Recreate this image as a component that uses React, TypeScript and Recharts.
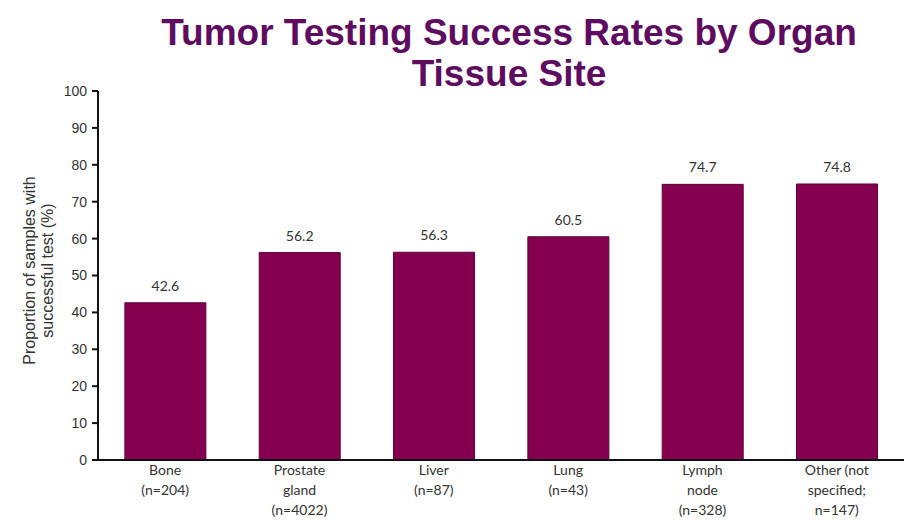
import { BarChart, Bar, XAxis, YAxis, LabelList } from 'recharts';

// Success rates per tissue site, with sample counts in the tick labels
const sites = [
  'Bone\n(n=204)',
  'Prostate\ngland\n(n=4022)',
  'Liver\n(n=87)',
  'Lung\n(n=43)',
  'Lymph\nnode\n(n=328)',
  'Other (not\nspecified;\nn=147)',
];
const successRates = [42.6, 56.2, 56.3, 60.5, 74.7, 74.8];
const yTicks = [0, 10, 20, 30, 40, 50, 60, 70, 80, 90, 100];

const data = sites.map((site, i) => ({ site, rate: successRates[i] }));

const BAR_COLOR = '#85004f';
const TEXT = '#333333';

// eslint-disable-next-line @typescript-eslint/no-explicit-any
function SiteTick(props: any) {
  const { x, y, payload } = props;
  const lines = String(payload.value).split('\n');
  return (
    <text x={x} y={y + 7} textAnchor="middle" fill={TEXT} fontSize={14} fontFamily="Lato, 'Open Sans', sans-serif">
      {lines.map((line, i) => (
        <tspan key={i} x={x} dy={i === 0 ? 0 : 20}>{line}</tspan>
      ))}
    </text>
  );
}

// eslint-disable-next-line @typescript-eslint/no-explicit-any
function YLabel(props: any) {
  const vb = props.viewBox || { x: 0, y: 0, height: 0 };
  const cy = vb.y + vb.height / 2 - 5;
  const cx = 40;
  return (
    <text
      transform={`translate(${cx}, ${cy}) rotate(-90)`}
      textAnchor="middle"
      fill={TEXT}
      fontSize={16}
      fontFamily="'Liberation Sans', Arial, sans-serif"
    >
      <tspan x={0} dy={-5}>Proportion of samples with</tspan>
      <tspan x={0} dy={18}>successful test (%)</tspan>
    </text>
  );
}

export default function App() {
  return (
    <div style={{ position: 'absolute', left: 0, top: 0, width: 924, height: 524, background: '#fff' }}>
      <div
        style={{
          position: 'absolute',
          left: 0,
          top: 12,
          width: 1018,
          textAlign: 'center',
          fontFamily: "'Liberation Sans', Arial, sans-serif",
          fontWeight: 'bold',
          fontSize: 37,
          lineHeight: '41px',
          color: '#5e0c5f',
        }}
      >
        Tumor Testing Success Rates by Organ
        <br />
        Tissue Site
      </div>
      <BarChart
        width={924}
        height={524}
        data={data}
        margin={{ top: 91, right: 20, bottom: 0, left: 58 }}
        barCategoryGap="20%"
      >
        <XAxis
          dataKey="site"
          interval={0}
          tickLine={false}
          axisLine={{ stroke: '#111', strokeWidth: 2 }}
          tick={<SiteTick />}
          height={64}
        />
        <YAxis
          domain={[0, 100]}
          ticks={yTicks}
          width={40}
          tickSize={6}
          tickMargin={5}
          axisLine={{ stroke: '#111', strokeWidth: 2 }}
          tickLine={{ stroke: '#111', strokeWidth: 2 }}
          tick={{ fill: TEXT, fontSize: 14, fontFamily: "'Liberation Sans', Arial, sans-serif" }}
          label={<YLabel />}
        />
        <Bar dataKey="rate" fill={BAR_COLOR} stroke="#5c0036" strokeWidth={1} isAnimationActive={false}>
          <LabelList
            dataKey="rate"
            position="top"
            offset={12}
            fill={TEXT}
            fontSize={14}
            fontFamily="Lato, 'Open Sans', sans-serif"
            formatter={(v: number) => v.toFixed(1)}
          />
        </Bar>
      </BarChart>
    </div>
  );
}
